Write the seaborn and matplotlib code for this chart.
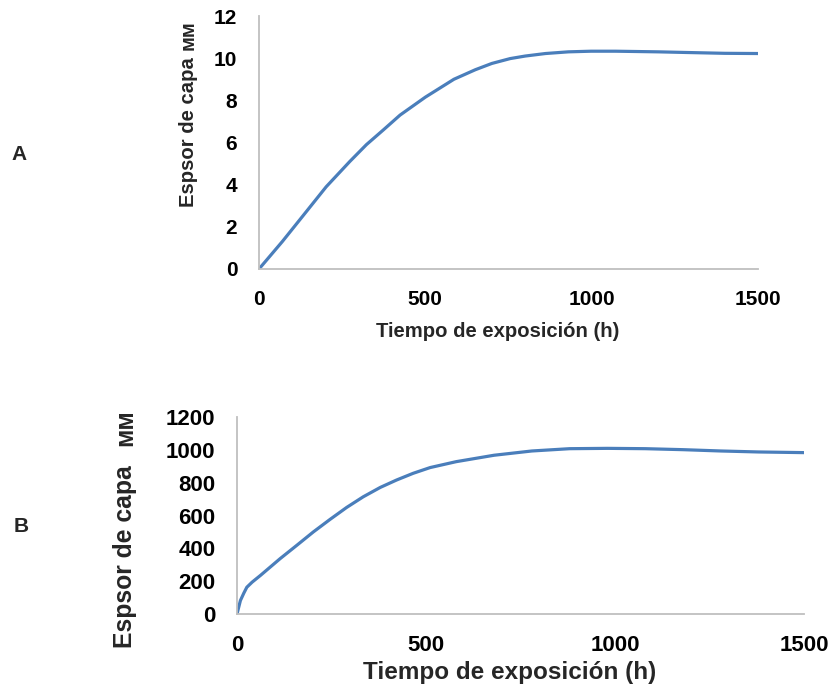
import matplotlib
matplotlib.use("Agg")
import matplotlib.pyplot as plt
from matplotlib import font_manager
import seaborn as sns
import pandas as pd

# Panel A data
time_a = [0, 70, 131, 202, 273, 323, 374, 424, 500, 586, 650, 700, 755, 800, 861, 930, 998, 1072, 1200, 1283, 1400, 1500]
thick_a = [0, 1.3, 2.5, 3.9, 5.1, 5.9, 6.6, 7.3, 8.15, 9.0, 9.45, 9.75, 9.98, 10.1, 10.22, 10.3, 10.33, 10.33, 10.3, 10.27, 10.23, 10.22]

# Panel B data
time_b = [0, 9, 18, 26, 40, 62, 114, 158, 202, 246, 290, 334, 379, 422, 466, 511, 580, 680, 780, 880, 980, 1080, 1180, 1280, 1380, 1500]
thick_b = [0, 82, 127, 163, 194, 235, 337, 418, 500, 576, 649, 714, 771, 816, 857, 892, 928, 967, 993, 1007, 1009, 1007, 1001, 993, 987, 983]

xticks = [0, 500, 1000, 1500]
yticks_a = [0, 2, 4, 6, 8, 10, 12]
yticks_b = [0, 200, 400, 600, 800, 1000, 1200]

xlabel = "Tiempo de exposición (h)"
ylabel_main = "Espsor de capa"
ylabel_unit = "мм"

sns.set_style("white")
plt.rcParams['font.family'] = ['Liberation Sans', 'DejaVu Sans']
plt.rcParams['font.weight'] = 'bold'

names = {f.name for f in font_manager.fontManager.ttflist}
has_narrow = 'Liberation Sans Narrow' in names
narrow = ['Liberation Sans Narrow', 'Liberation Sans', 'DejaVu Sans'] if has_narrow \
    else ['Liberation Sans', 'DejaVu Sans']
narrow_scale = 1.0 if has_narrow else 0.86
regular = ['Liberation Sans', 'DejaVu Sans']

W, H = 832, 685
fig = plt.figure(figsize=(W / 100, H / 100), dpi=100)

def px_axes(l, r, t, b):
    return fig.add_axes([l / W, 1 - b / H, (r - l) / W, (b - t) / H])

def ftxt(x, y, s, **kw):
    return fig.text(x / W, 1 - y / H, s, **kw)

line_color = "#4A7EBB"
spine_color = "#BFBFBF"

def style(ax, fs, family):
    for s in ["top", "right"]:
        ax.spines[s].set_visible(False)
    for s in ["left", "bottom"]:
        ax.spines[s].set_color(spine_color)
        ax.spines[s].set_linewidth(1.3)
    ax.tick_params(axis="x", direction="out", length=4.3, width=1.3, color=spine_color,
                   labelsize=fs, labelcolor="black", pad=10.5)
    ax.tick_params(axis="y", direction="out", length=5.8, width=1.3, color=spine_color,
                   labelsize=fs, labelcolor="black", pad=9.8)
    for lab in ax.get_xticklabels() + ax.get_yticklabels():
        lab.set_fontweight("bold")
        lab.set_family(family)

# Panel A
ax1 = px_axes(259, 758, 16, 269)
df_a = pd.DataFrame({"t": time_a, "y": thick_a})
sns.lineplot(data=df_a, x="t", y="y", ax=ax1, color=line_color, linewidth=2.3)
ax1.set_xlim(0, 1500)
ax1.set_ylim(0, 12)
ax1.set_xticks(xticks)
ax1.set_yticks(yticks_a)
ax1.set_xlabel("")
ax1.set_ylabel("")
style(ax1, 16 if has_narrow else 15, narrow)
ftxt(498, 337, xlabel, ha="center", va="baseline", fontsize=17 * narrow_scale,
     fontweight="bold", family=narrow)
ftxt(188, 207, ylabel_main, rotation=90, ha="center", va="bottom",
     fontsize=17 * narrow_scale, fontweight="bold", family=narrow)
ftxt(188, 35, ylabel_unit, rotation=90, ha="center", va="center",
     fontsize=17 * narrow_scale, fontweight="bold", family=narrow)
ftxt(19, 155, "A", ha="center", va="center", fontsize=15, fontweight="bold")

# Panel B
ax2 = px_axes(237, 804, 417, 614)
df_b = pd.DataFrame({"t": time_b, "y": thick_b})
sns.lineplot(data=df_b, x="t", y="y", ax=ax2, color=line_color, linewidth=2.3)
ax2.set_xlim(0, 1500)
ax2.set_ylim(0, 1200)
ax2.set_xticks(xticks)
ax2.set_yticks(yticks_b)
ax2.set_xlabel("")
ax2.set_ylabel("")
style(ax2, 16, regular)
ftxt(510, 679, xlabel, ha="center", va="baseline", fontsize=17.5, fontweight="bold", family=regular)
ftxt(125, 648, ylabel_main, rotation=90, ha="center", va="bottom",
     fontsize=17.8, fontweight="bold", family=regular)
ftxt(125, 428, ylabel_unit, rotation=90, ha="center", va="center",
     fontsize=17.8, fontweight="bold", family=regular)
ftxt(21, 527, "B", ha="center", va="center", fontsize=15, fontweight="bold")

fig.savefig("out.png", dpi=100)
